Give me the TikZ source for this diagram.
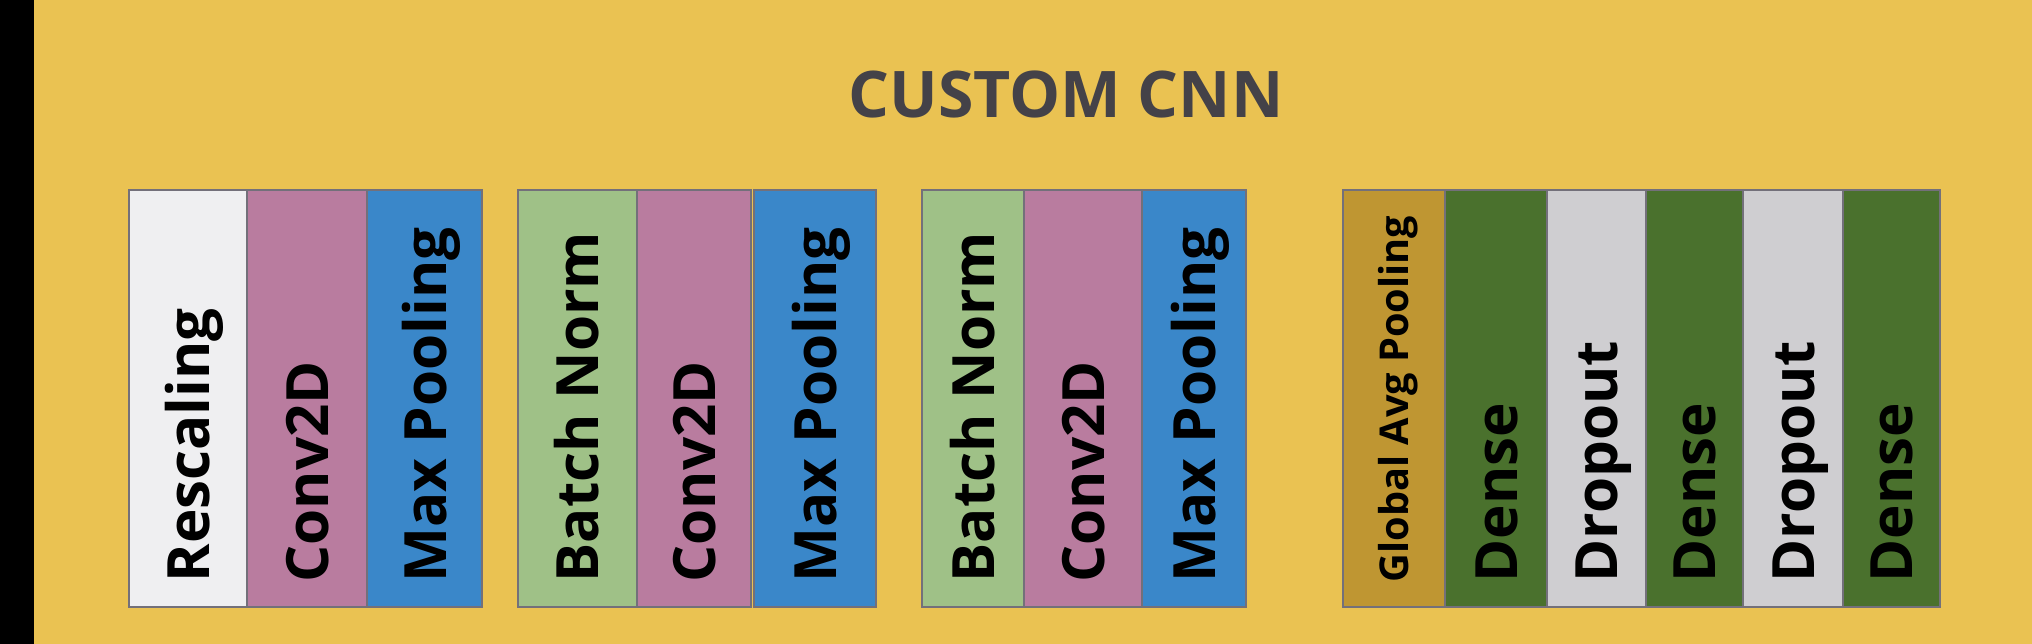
\documentclass[tikz,border=0pt]{standalone}
\usepackage{fontspec}
\setsansfont{Open Sans}
\renewcommand{\familydefault}{\sfdefault}
\definecolor{bgyellow}{HTML}{EAC252}
\definecolor{titlegray}{HTML}{444248}
\definecolor{edgegray}{HTML}{73707A}
\definecolor{rescol}{HTML}{EFEFF1}
\definecolor{convcol}{HTML}{B97C9F}
\definecolor{poolcol}{HTML}{3A87C9}
\definecolor{normcol}{HTML}{9FC187}
\definecolor{gapcol}{HTML}{BF9632}
\definecolor{densecol}{HTML}{4A712D}
\definecolor{dropcol}{HTML}{CFCED1}
\begin{document}
\begin{tikzpicture}[x=0.1mm, y=-0.1mm,
  layer/.style={draw=edgegray, line width=0.2mm, rectangle, anchor=north west,
    minimum height=41.7mm, inner sep=0pt, outer sep=0pt},
  lbl/.style={rotate=90, anchor=west, inner sep=0pt, text height=4.3mm, text depth=0pt,
    font=\bfseries\fontsize{16.6}{16.6}\selectfont},
  small lbl/.style={lbl, text height=2.8mm, font=\bfseries\fontsize{11.3}{11.3}\selectfont},
  title/.style={anchor=base, text=titlegray, font=\bfseries\fontsize{18.3}{18.3}\selectfont}]
%background
\fill[bgyellow] (0,0) rectangle (2032,644);
\fill[black] (0,0) rectangle (34,644);
\useasboundingbox (0,0) rectangle (2032,644);

%title
\node[title] (head) at (1066,118) {CUSTOM CNN};

%first block
\node[layer, fill=rescol, minimum width=11.83mm] (resc) at (128.6,190) {};
\node[layer, fill=convcol, minimum width=12.01mm] (conva) at (246.9,190) {};
\node[layer, fill=poolcol, minimum width=11.5mm] (poola) at (367,190) {};

%second block
\node[layer, fill=normcol, minimum width=11.85mm] (normb) at (518,190) {};
\node[layer, fill=convcol, minimum width=11.45mm] (convb) at (636.5,190) {};
\node[layer, fill=poolcol, minimum width=12.2mm] (poolb) at (754,190) {};

%third block
\node[layer, fill=normcol, minimum width=10.16mm] (normc) at (922.4,190) {};
\node[layer, fill=convcol, minimum width=11.76mm] (convc) at (1024,190) {};
\node[layer, fill=poolcol, minimum width=10.46mm] (poolc) at (1141.6,190) {};

%dense block
\node[layer, fill=gapcol, minimum width=10.13mm] (gap) at (1343.4,190) {};
\node[layer, fill=densecol, minimum width=10.27mm] (densea) at (1444.7,190) {};
\node[layer, fill=dropcol, minimum width=9.81mm] (dropa) at (1547.4,190) {};
\node[layer, fill=densecol, minimum width=9.71mm] (denseb) at (1645.5,190) {};
\node[layer, fill=dropcol, minimum width=9.99mm] (dropb) at (1742.6,190) {};
\node[layer, fill=densecol, minimum width=9.71mm] (densec) at (1842.5,190) {};

%labels
\node[lbl] (resc-t) at ([yshift=2.4mm]resc.south) {Rescaling};
\node[lbl] (conva-t) at ([yshift=2.4mm]conva.south) {Conv2D};
\node[lbl] (poola-t) at ([yshift=2.4mm]poola.south) {Max Pooling};
\node[lbl] (normb-t) at ([yshift=2.4mm]normb.south) {Batch Norm};
\node[lbl] (convb-t) at ([yshift=2.4mm]convb.south) {Conv2D};
\node[lbl] (poolb-t) at ([yshift=2.4mm]poolb.south) {Max Pooling};
\node[lbl] (normc-t) at ([yshift=2.4mm]normc.south) {Batch Norm};
\node[lbl] (convc-t) at ([yshift=2.4mm]convc.south) {Conv2D};
\node[lbl] (poolc-t) at ([yshift=2.4mm]poolc.south) {Max Pooling};
\node[small lbl] (gap-t) at ([yshift=2.4mm]gap.south) {Global Avg Pooling};
\node[lbl] (densea-t) at ([yshift=2.4mm]densea.south) {Dense};
\node[lbl] (dropa-t) at ([yshift=2.4mm]dropa.south) {Dropout};
\node[lbl] (denseb-t) at ([yshift=2.4mm]denseb.south) {Dense};
\node[lbl] (dropb-t) at ([yshift=2.4mm]dropb.south) {Dropout};
\node[lbl] (densec-t) at ([yshift=2.4mm]densec.south) {Dense};
\end{tikzpicture}
\end{document}
